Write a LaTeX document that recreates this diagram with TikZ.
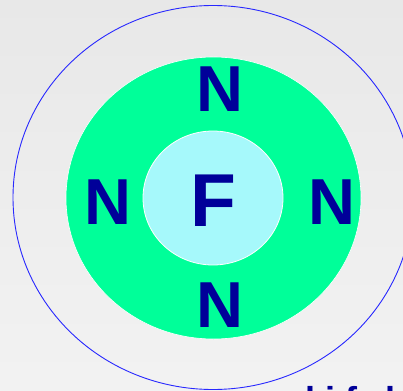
\documentclass[tikz,border=0pt]{standalone}
\usepackage{fontspec}
\setmainfont{Liberation Sans}
\usetikzlibrary{positioning}

\definecolor{atomblue}{RGB}{0,0,153}
\definecolor{shellgreen}{RGB}{0,255,153}
\definecolor{corecyan}{RGB}{166,249,251}
\definecolor{orbitblue}{RGB}{40,40,255}

\begin{document}
\begin{tikzpicture}[
    x=1pt, y=-1pt,
    letter/.style={anchor=base, inner sep=0pt, text=atomblue,
        font=\fontsize{65}{65}\bfseries\selectfont},
    core/.style={letter, font=\fontsize{75}{75}\bfseries\selectfont},
    orbit/.style={draw=orbitblue, line width=0.9pt},
    shell/.style={fill=shellgreen, draw=white, line width=0.6pt},
    nucleus/.style={fill=corecyan, draw=white, line width=0.8pt},
]
\useasboundingbox (0,0) rectangle (403,390);

% background
\shade[top color=black!9, bottom color=black!5] (0,0) rectangle (403,390);

% shells
\draw[orbit] (213,197.5) ellipse [x radius=200, y radius=192];
\draw[shell] (213.5,198) ellipse [x radius=147.5, y radius=141];
\draw[nucleus] (213,198) ellipse [x radius=70, y radius=67];

% letters
\node[core] (f) at (213,226) {F};
\node[letter] (ntop) at (220,112) {N};
\node[letter] (nleft) at (107.5,224) {N};
\node[letter] (nright) at (331.5,224) {N};
\node[letter] (nbottom) at (220,327) {N};

% cut-off caption
\node[anchor=base west, inner sep=0pt, text=atomblue,
    font=\fontsize{36}{36}\bfseries\selectfont] (caption) at (305,412)
    {l\hspace{10pt}i\hspace{10pt}f\hspace{28pt}l};

\end{tikzpicture}
\end{document}
